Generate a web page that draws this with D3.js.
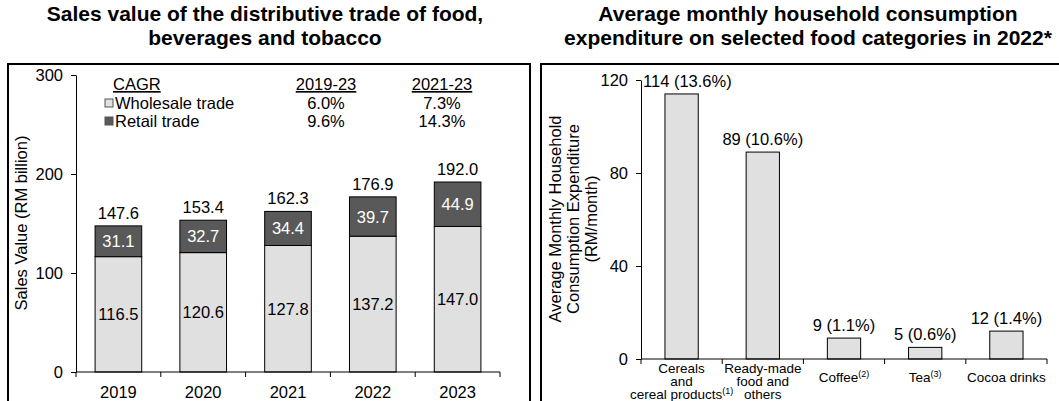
<!DOCTYPE html>
<html>
<head>
<meta charset="utf-8">
<script src="https://cdn.jsdelivr.net/npm/d3@7"></script>
<style>
  html, body { margin: 0; padding: 0; background: #fff; }
  svg { display: block; }
  text { font-family: "Liberation Sans", Arial, sans-serif; fill: #000; }
</style>
</head>
<body>
<svg id="chart" width="1059" height="401"></svg>
<script>
// ---------------- Data ----------------
const years = ["2019", "2020", "2021", "2022", "2023"];
const wholesale = [116.5, 120.6, 127.8, 137.2, 147.0];
const retail = [31.1, 32.7, 34.4, 39.7, 44.9];
const totals = [147.6, 153.4, 162.3, 176.9, 192.0];
const leftTicks = [0, 100, 200, 300];
const cagrPeriods = ["2019-23", "2021-23"];
const cagrWholesale = ["6.0%", "7.3%"];
const cagrRetail = ["9.6%", "14.3%"];
const seriesNames = ["Wholesale trade", "Retail trade"];

const categoryLines = [
  ["Cereals", "and", "cereal products"],
  ["Ready-made", "food and", "others"],
  ["Coffee"],
  ["Tea"],
  ["Cocoa drinks"]
];
const categorySup = ["(1)", "", "(2)", "(3)", ""];
const expenditure = [114, 89, 9, 5, 12];
const expenditureShare = ["13.6%", "10.6%", "1.1%", "0.6%", "1.4%"];
const rightTicks = [0, 40, 80, 120];

// ---------------- Style ----------------
const LIGHT = "#e0e0e0";
const DARK = "#595959";
const svg = d3.select("#chart");

// ---------------- Frames ----------------
svg.append("rect").attr("x", 8).attr("y", 64).attr("width", 522).attr("height", 360)
  .attr("fill", "none").attr("stroke", "#000").attr("stroke-width", 2);
svg.append("rect").attr("x", 541).attr("y", 64).attr("width", 540).attr("height", 360)
  .attr("fill", "none").attr("stroke", "#000").attr("stroke-width", 2);

// ---------------- Titles ----------------
function title(cx, lines) {
  const t = svg.append("text").attr("text-anchor", "middle")
    .style("font-weight", "bold").style("font-size", "21px");
  lines.forEach((l, i) => t.append("tspan").attr("x", cx).attr("y", 21 + i * 24).text(l));
}
title(265, ["Sales value of the distributive trade of food,", "beverages and tobacco"]);
title(808, ["Average monthly household consumption", "expenditure on selected food categories in 2022*"]);

// ---------------- Left chart ----------------
{
  const x = d3.scaleBand().domain(years).range([76, 500]).paddingInner(0.45).paddingOuter(0.225);
  const y = d3.scaleLinear().domain([0, 300]).range([372, 75]);
  const g = svg.append("g");

  const stack = d3.stack().keys([0, 1]).value((d, k) => k === 0 ? wholesale[d] : retail[d]);
  const layers = stack(d3.range(years.length));
  const fills = [LIGHT, DARK];

  layers.forEach((layer, k) => {
    g.selectAll(null).data(layer).enter().append("rect")
      .attr("x", (d, i) => x(years[i]))
      .attr("width", x.bandwidth())
      .attr("y", d => y(d[1]))
      .attr("height", d => y(d[0]) - y(d[1]))
      .attr("fill", fills[k]).attr("stroke", "#000").attr("stroke-width", 1);
    g.selectAll(null).data(layer).enter().append("text")
      .attr("x", (d, i) => x(years[i]) + x.bandwidth() / 2)
      .attr("y", d => (y(d[0]) + y(d[1])) / 2 + 6)
      .attr("text-anchor", "middle").style("font-size", "16.5px")
      .style("fill", k === 0 ? "#000" : "#fff")
      .text((d, i) => (k === 0 ? wholesale[i] : retail[i]).toFixed(1));
  });

  g.selectAll(null).data(totals).enter().append("text")
    .attr("x", (d, i) => x(years[i]) + x.bandwidth() / 2)
    .attr("y", d => y(d) - 7)
    .attr("text-anchor", "middle").style("font-size", "16.5px")
    .text(d => d.toFixed(1));

  const yAxis = d3.axisLeft(y).tickValues(leftTicks).tickSize(5).tickPadding(8).tickSizeOuter(0);
  const ya = g.append("g").attr("transform", "translate(76,0)").call(yAxis);
  ya.selectAll("text").style("font-size", "16.5px").style("font-family", "Liberation Sans, Arial, sans-serif");

  // x axis with ticks at band boundaries
  const xa = g.append("g").attr("transform", "translate(0,372)");
  xa.append("line").attr("x1", 76).attr("x2", 500).attr("stroke", "#000");
  const bounds = years.map(d => x(d) - x.step() * x.paddingInner() / 2).concat([500]);
  bounds[0] = 76;
  xa.selectAll(null).data(bounds).enter().append("line")
    .attr("x1", d => d).attr("x2", d => d).attr("y1", 0).attr("y2", 5).attr("stroke", "#000");
  xa.selectAll(null).data(years).enter().append("text")
    .attr("x", d => x(d) + x.bandwidth() / 2).attr("y", 26)
    .attr("text-anchor", "middle").style("font-size", "16.5px").text(d => d);
  ya.select(".domain").attr("stroke", "#000");

  g.append("text").attr("transform", "translate(27,223) rotate(-90)")
    .attr("text-anchor", "middle").style("font-size", "16.5px").text("Sales Value (RM billion)");

  // CAGR legend table
  const lg = svg.append("g");
  lg.append("text").attr("x", 113).attr("y", 90).style("font-size", "16.5px")
    .style("text-decoration", "underline").text("CAGR");
  const colX = [326, 442];
  cagrPeriods.forEach((p, i) => {
    lg.append("text").attr("x", colX[i]).attr("y", 90).attr("text-anchor", "middle")
      .style("font-size", "16.5px").style("text-decoration", "underline").text(p);
    lg.append("text").attr("x", colX[i]).attr("y", 109).attr("text-anchor", "middle")
      .style("font-size", "16.5px").text(cagrWholesale[i]);
    lg.append("text").attr("x", colX[i]).attr("y", 127).attr("text-anchor", "middle")
      .style("font-size", "16.5px").text(cagrRetail[i]);
  });
  seriesNames.forEach((s, i) => {
    const yy = 109 + i * 18;
    lg.append("rect").attr("x", 105).attr("y", yy - 10).attr("width", 8).attr("height", 8)
      .attr("fill", fills[i]).attr("stroke", "#555").attr("stroke-width", 1);
    lg.append("text").attr("x", 115).attr("y", yy).style("font-size", "16.5px").text(s);
  });
}

// ---------------- Right chart ----------------
{
  const idx = d3.range(categoryLines.length);
  const axisX = 641;
  const x = d3.scaleBand().domain(idx).range([axisX, 1047]).paddingInner(0.59).paddingOuter(0.295);
  const y = d3.scaleLinear().domain([0, 120]).range([359, 80]);
  const g = svg.append("g");

  g.selectAll(null).data(expenditure).enter().append("rect")
    .attr("x", (d, i) => x(i)).attr("width", x.bandwidth())
    .attr("y", d => y(d)).attr("height", d => y(0) - y(d))
    .attr("fill", LIGHT).attr("stroke", "#000").attr("stroke-width", 1);

  g.selectAll(null).data(expenditure).enter().append("text")
    .attr("y", d => y(d) - 7)
    .attr("text-anchor", "middle").style("font-size", "16.5px")
    .text((d, i) => `${d} (${expenditureShare[i]})`)
    .each(function(d, i) {
      const half = this.getComputedTextLength() / 2;
      const cx = Math.max(x(i) + x.bandwidth() / 2, axisX + 2 + half);
      d3.select(this).attr("x", cx);
    });

  const yAxis = d3.axisLeft(y).tickValues(rightTicks).tickSize(5).tickPadding(8).tickSizeOuter(0);
  const ya = g.append("g").attr("transform", `translate(${axisX},0)`).call(yAxis);
  ya.selectAll("text").style("font-size", "16.5px").style("font-family", "Liberation Sans, Arial, sans-serif");

  const xa = g.append("g").attr("transform", "translate(0,359)");
  xa.append("line").attr("x1", axisX).attr("x2", 1047).attr("stroke", "#000");
  const bounds = idx.map(i => x(i) - x.step() * x.paddingInner() / 2).concat([1047]);
  bounds[0] = axisX;
  xa.selectAll(null).data(bounds).enter().append("line")
    .attr("x1", d => d).attr("x2", d => d).attr("y1", 0).attr("y2", 5).attr("stroke", "#000");

  idx.forEach(i => {
    const lines = categoryLines[i];
    const cx = x(i) + x.bandwidth() / 2;
    const t = xa.append("text").attr("text-anchor", "middle").style("font-size", "13.5px");
    lines.forEach((l, j) => {
      const base = lines.length === 1 ? 23 : 14 + j * 13;
      t.append("tspan").attr("x", cx).attr("y", base).text(l);
      if (j === lines.length - 1 && categorySup[i]) {
        t.append("tspan").attr("dy", -5).style("font-size", "9px").text(categorySup[i]);
      }
    });
  });

  const lbl = g.append("text").attr("transform", "translate(0,219) rotate(-90)")
    .attr("text-anchor", "middle").style("font-size", "16.5px");
  ["Average Monthly Household", "Consumption Expenditure", "(RM/month)"].forEach((l, j) => {
    lbl.append("tspan").attr("x", 0).attr("y", 561 + j * 18).text(l);
  });
}
</script>
</body>
</html>
